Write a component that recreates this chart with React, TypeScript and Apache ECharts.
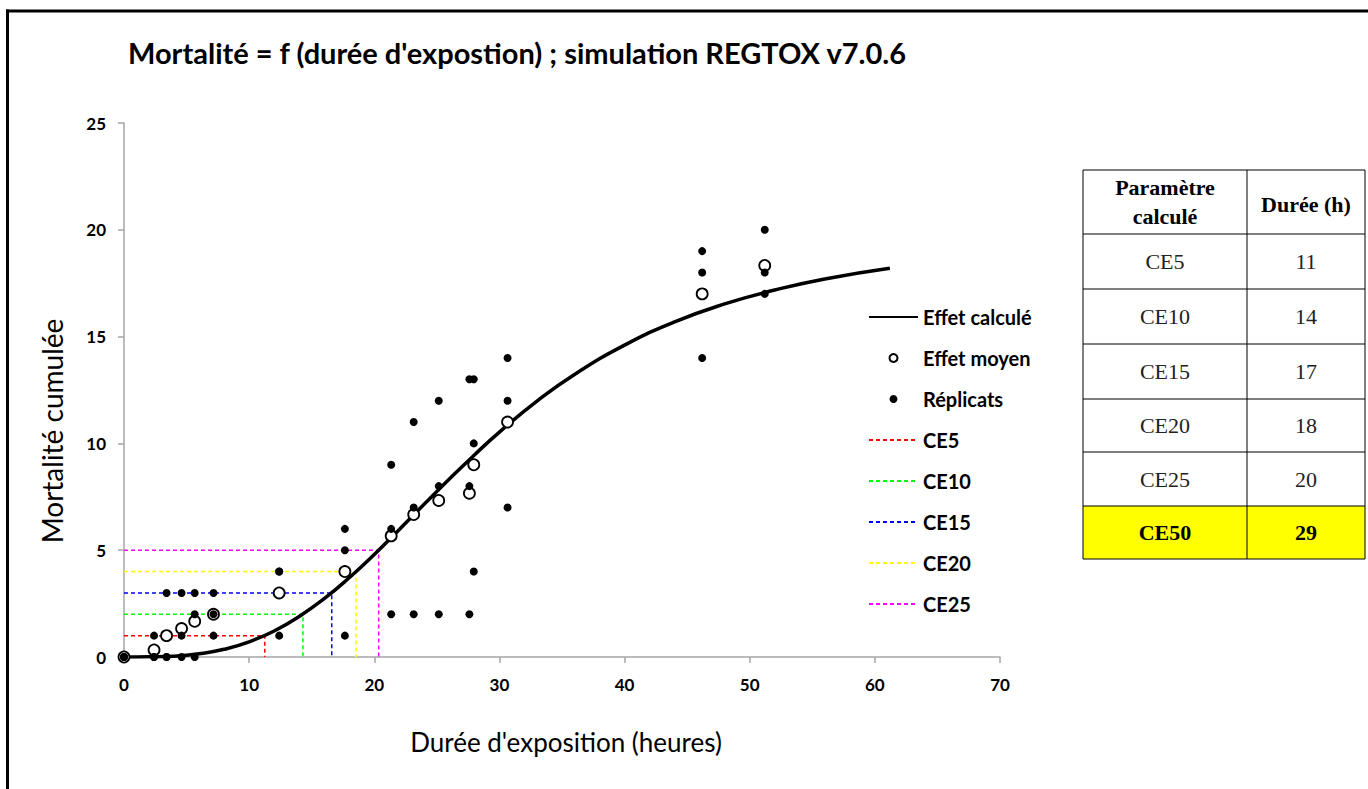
import React, { useEffect, useRef } from 'react';
import * as echarts from 'echarts';

// Observation times (h) and replicate mortality counts
const times = [0, 2.4, 3.4, 4.6, 5.65, 7.15, 12.4, 17.65, 21.35, 23.15, 25.15, 27.6, 27.95, 30.65, 46.2, 51.2];
const replicateA = [0, 0, 0, 0, 0, 1, 1, 6, 9, 11, 12, 13, 13, 14, 19, 20];
const replicateB = [0, 1, 3, 1, 2, 2, 4, 5, 6, 7, 8, 8, 10, 12, 18, 18];
const replicateC = [0, 0, 0, 3, 3, 3, 4, 1, 2, 2, 2, 2, 4, 7, 14, 17];
const meanEffect = [0, 0.33, 1, 1.33, 1.67, 2, 3, 4, 5.67, 6.67, 7.33, 7.67, 9, 11, 17, 18.33];

// Fitted curve
const curveX = [0, 2, 4, 6, 8, 10, 12, 14, 16, 18, 20, 22, 24, 26, 28, 30, 33, 36, 40, 44, 48, 52, 56, 61.2];
const curveY = [0, 0.01, 0.04, 0.15, 0.36, 0.71, 1.22, 1.9, 2.73, 3.71, 4.8, 5.97, 7.16, 8.33, 9.46, 10.53, 11.98, 13.23, 14.6, 15.69, 16.53, 17.18, 17.7, 18.2];

// CE guide lines
const ceNames = ['CE5', 'CE10', 'CE15', 'CE20', 'CE25'];
const ceLevels = [1, 2, 3, 4, 5];
const ceDurations = [11.25, 14.3, 16.6, 18.55, 20.35];
const ceColors = ['#ff0000', '#00ff00', '#0000ff', '#ffff00', '#ff00ff'];

// Table
const tableHeader = ['Paramètre\ncalculé', 'Durée (h)'];
const tableParams = ['CE5', 'CE10', 'CE15', 'CE20', 'CE25', 'CE50'];
const tableDurations = ['11', '14', '17', '18', '20', '29'];

const xTicks = { min: 0, max: 70, interval: 10 };
const yTicks = { min: 0, max: 25, interval: 5 };

export default function App() {
  const ref = useRef<HTMLDivElement>(null);
  useEffect(() => {
    if (!ref.current) return;
    const chart = echarts.init(ref.current, undefined, { renderer: 'svg' });
    const sans = 'Lato';
    const serif = 'Liberation Serif';

    const ceSeries = ceNames.map((n, i) => ({
      name: n,
      type: 'line',
      symbol: 'none',
      z: 1,
      data: [
        [0, ceLevels[i]],
        [ceDurations[i], ceLevels[i]],
        [ceDurations[i], 0],
      ],
      lineStyle: { color: ceColors[i], width: 1.5, type: [4, 3] },
      itemStyle: { color: ceColors[i] },
    }));

    // table graphics
    const tx0 = 1083, tx1 = 1247, tx2 = 1365;
    const rowYs = [170, 234, 289, 344, 399, 452, 506, 559];
    const tableEls: any[] = [];
    tableEls.push({
      type: 'rect',
      shape: { x: tx0, y: rowYs[6], width: tx2 - tx0, height: rowYs[7] - rowYs[6] },
      style: { fill: '#ffff00' },
    });
    rowYs.forEach((y) => {
      tableEls.push({ type: 'line', shape: { x1: tx0, y1: y, x2: tx2, y2: y }, style: { stroke: '#000', lineWidth: 1 } });
    });
    [tx0, tx1, tx2].forEach((x) => {
      tableEls.push({ type: 'line', shape: { x1: x, y1: rowYs[0], x2: x, y2: rowYs[7] }, style: { stroke: '#000', lineWidth: 1 } });
    });
    const c1 = (tx0 + tx1) / 2, c2 = (tx1 + tx2) / 2;
    tableEls.push({
      type: 'text', x: c1, y: (rowYs[0] + rowYs[1]) / 2,
      style: { text: tableHeader[0], align: 'center', verticalAlign: 'middle', font: `bold 22px "${serif}"`, lineHeight: 29, fill: '#000' },
    });
    tableEls.push({
      type: 'text', x: c2, y: (rowYs[0] + rowYs[1]) / 2 + 2,
      style: { text: tableHeader[1], align: 'center', verticalAlign: 'middle', font: `bold 22px "${serif}"`, fill: '#000' },
    });
    tableParams.forEach((p, i) => {
      const last = i === tableParams.length - 1;
      const cy = (rowYs[i + 1] + rowYs[i + 2]) / 2;
      const font = last ? `bold 22px "${serif}"` : `22px "${serif}"`;
      const fill = last ? '#000' : '#222';
      tableEls.push({ type: 'text', x: c1, y: cy, style: { text: p, align: 'center', verticalAlign: 'middle', font, fill } });
      tableEls.push({ type: 'text', x: c2, y: cy, style: { text: tableDurations[i], align: 'center', verticalAlign: 'middle', font, fill } });
    });

    const hidden = { color: 'rgba(0,0,0,0)', borderColor: 'rgba(0,0,0,0)', borderWidth: 0 };

    const option: any = {
      animation: false,
      backgroundColor: '#fff',
      grid: { left: 124, right: 368, top: 123, bottom: 132 },
      xAxis: {
        type: 'value',
        min: xTicks.min, max: xTicks.max, interval: xTicks.interval,
        axisLine: { lineStyle: { color: '#a6a6a6', width: 1.5 } },
        axisTick: { show: true, length: 6, lineStyle: { color: '#a6a6a6', width: 1.5 } },
        splitLine: { show: false },
        axisLabel: { margin: 19, color: '#000', fontFamily: sans, fontWeight: 'bold', fontSize: 17 },
      },
      yAxis: {
        type: 'value',
        min: yTicks.min, max: yTicks.max, interval: yTicks.interval,
        axisLine: { show: true, lineStyle: { color: '#a6a6a6', width: 1.5 } },
        axisTick: { show: true, length: 6, lineStyle: { color: '#a6a6a6', width: 1.5 } },
        splitLine: { show: false },
        axisLabel: { margin: 18, color: '#000', fontFamily: sans, fontWeight: 'bold', fontSize: 17 },
      },
      legend: {
        orient: 'vertical',
        left: 863,
        top: 302,
        itemWidth: 49,
        itemHeight: 8,
        itemGap: 21,
        selectedMode: false,
        textStyle: { fontFamily: sans, fontWeight: 'bold', fontSize: 20, color: '#000' },
        data: [
          { name: 'Effet calculé', itemStyle: hidden },
          'Effet moyen',
          'Réplicats',
          ...ceNames.map((n) => ({ name: n, itemStyle: hidden })),
        ],
      },
      series: [
        ...ceSeries,
        {
          name: 'Effet calculé',
          type: 'line',
          symbol: 'none',
          smooth: true,
          z: 3,
          data: curveX.map((x, i) => [x, curveY[i]]),
          lineStyle: { color: '#000', width: 3.5 },
          itemStyle: { color: '#000' },
        },
        {
          name: 'Effet moyen',
          type: 'scatter',
          symbol: 'circle',
          symbolSize: 11,
          z: 4,
          data: times.map((t, i) => [t, meanEffect[i]]),
          itemStyle: { color: '#fff', borderColor: '#000', borderWidth: 1.8, opacity: 1 },
        },
        {
          name: 'Réplicats',
          type: 'scatter',
          symbol: 'circle',
          symbolSize: 8,
          z: 5,
          data: [
            ...times.map((t, i) => [t, replicateA[i]]),
            ...times.map((t, i) => [t, replicateB[i]]),
            ...times.map((t, i) => [t, replicateC[i]]),
          ],
          itemStyle: { color: '#000', opacity: 1 },
        },
      ],
      graphic: [
        { type: 'line', shape: { x1: 7.5, y1: 9.5, x2: 7.5, y2: 789 }, style: { stroke: '#000', lineWidth: 3 } },
        { type: 'line', shape: { x1: 6, y1: 11, x2: 1368, y2: 11 }, style: { stroke: '#000', lineWidth: 3 } },
        {
          type: 'text', x: 128, y: 52,
          style: { text: "Mortalité = f (durée d'expostion) ; simulation REGTOX v7.0.6", verticalAlign: 'middle', font: `bold 29px "${sans}"`, fill: '#000' },
        },
        {
          type: 'text', x: 52, y: 431, rotation: Math.PI / 2,
          style: { text: 'Mortalité cumulée', align: 'center', verticalAlign: 'middle', font: `28px "${sans}"`, fill: '#000' },
        },
        {
          type: 'text', x: 566, y: 742,
          style: { text: "Durée d'exposition (heures)", align: 'center', verticalAlign: 'middle', font: `26px "${sans}"`, fill: '#000' },
        },
        ...tableEls,
      ],
    };
    chart.setOption(option);
    return () => chart.dispose();
  }, []);
  return <div ref={ref} style={{ position: 'fixed', left: 0, top: 0, width: 1368, height: 789, background: '#fff' }} />;
}
